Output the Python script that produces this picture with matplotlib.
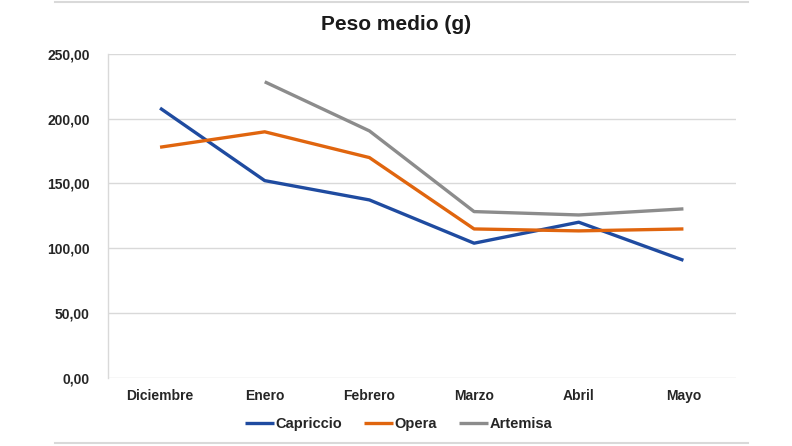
import matplotlib
matplotlib.use("Agg")
import matplotlib.pyplot as plt
import numpy as np

months = ["Diciembre", "Enero", "Febrero", "Marzo", "Abril", "Mayo"]
capriccio = [208.2, 152.2, 137.3, 103.9, 120.1, 90.7]
opera = [178.0, 189.9, 170.0, 114.9, 113.4, 114.9]
artemisa = [np.nan, 228.5, 190.6, 128.3, 125.7, 130.4]
yticks = [0, 50, 100, 150, 200, 250]
ytick_labels = ["0,00", "50,00", "100,00", "150,00", "200,00", "250,00"]

plt.rcParams['font.family'] = ['Liberation Sans', 'DejaVu Sans']

fig = plt.figure(figsize=(7.92, 4.46), dpi=100)
ax = fig.add_axes([0.136, 0.153, 0.793, 0.726])

x = np.arange(len(months))
ax.plot(x, capriccio, color="#1F4BA0", lw=2.4, label="Capriccio", solid_capstyle="butt")
ax.plot(x, opera, color="#E0650E", lw=2.4, label="Opera", solid_capstyle="butt")
ax.plot(x, artemisa, color="#8C8C8C", lw=2.4, label="Artemisa", solid_capstyle="butt")

ax.set_xlim(-0.5, len(months) - 0.5)
ax.set_ylim(0, 250)
ax.set_yticks(yticks)
ax.set_yticklabels(ytick_labels, fontweight="bold", fontsize=10, color="#262626")
ax.set_xticks(x)
ax.set_xticklabels(months, fontweight="bold", fontsize=10, color="#262626")
ax.tick_params(length=0, pad=8)
ax.tick_params(axis="y", pad=13)
ax.grid(axis="y", color="#D9D9D9", lw=1)
ax.set_axisbelow(True)
for s in ["top", "right", "bottom"]:
    ax.spines[s].set_visible(False)
ax.spines["left"].set_color("#D9D9D9")
ax.spines["left"].set_linewidth(1)

fig.text(0.5, 0.944, "Peso medio (g)", ha="center", va="center", fontsize=15, fontweight="bold", color="#1a1a1a")

leg = fig.legend(loc="center", bbox_to_anchor=(0.503, 0.049), ncol=3, frameon=False,
                 prop={"weight": "bold", "size": 10.5}, handlelength=2.0, handletextpad=0.1,
                 columnspacing=1.5)
for t in leg.get_texts():
    t.set_color("#262626")

fig.add_artist(plt.Line2D([0.07, 0.945], [0.995, 0.995], transform=fig.transFigure, color="#D9D9D9", lw=1.5))
fig.add_artist(plt.Line2D([0.07, 0.945], [0.007, 0.007], transform=fig.transFigure, color="#D9D9D9", lw=1.5))

fig.savefig("out.png", dpi=100)
